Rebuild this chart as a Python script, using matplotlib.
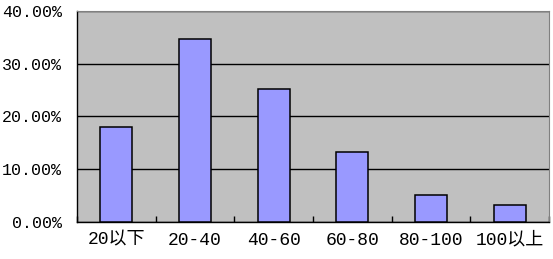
import matplotlib
matplotlib.use("Agg")
import matplotlib.pyplot as plt
import numpy as np
from matplotlib.ticker import FuncFormatter, FixedLocator

categories = ["20以下", "20-40", "40-60", "60-80", "80-100", "100以上"]
values = [18.0, 34.7, 25.2, 13.3, 5.1, 3.2]
yticks = [0, 10, 20, 30, 40]

fam = ["Liberation Mono", "Noto Sans CJK SC"]

fig = plt.figure(figsize=(5.53, 2.59), dpi=100)
ax = fig.add_axes([77/553, 37/259, 472/553, 211/259])
ax.set_facecolor("#C0C0C0")

x = np.arange(len(categories))
ax.bar(x, values, width=0.41, color="#9999FF", edgecolor="black", linewidth=1.1, zorder=3)

ax.set_xlim(-0.5, len(categories) - 0.5)
ax.set_ylim(0, 40)
ax.set_yticks(yticks)
ax.yaxis.set_major_formatter(FuncFormatter(lambda v, p: f"{v:.2f}%"))
ax.grid(axis="y", color="black", linewidth=1.0, zorder=1)
ax.tick_params(axis="y", length=0, pad=11)
for t in ax.get_yticklabels():
    t.set_family(fam)
    t.set_fontsize(12)

ax.set_xticks(x)
ax.set_xticklabels(categories, family=fam, fontsize=13)
ax.tick_params(axis="x", which="major", length=0, pad=7)
ax.xaxis.set_minor_locator(FixedLocator(np.arange(-0.5, len(categories), 1.0)))
ax.tick_params(axis="x", which="minor", direction="in", length=4.3, width=1.0, color="black")

ax.spines["left"].set_color("black")
ax.spines["bottom"].set_color("black")
ax.spines["left"].set_linewidth(1.0)
ax.spines["bottom"].set_linewidth(1.0)
ax.spines["top"].set_color("#808080")
ax.spines["right"].set_color("#808080")

fig.savefig("out.png", dpi=100)
